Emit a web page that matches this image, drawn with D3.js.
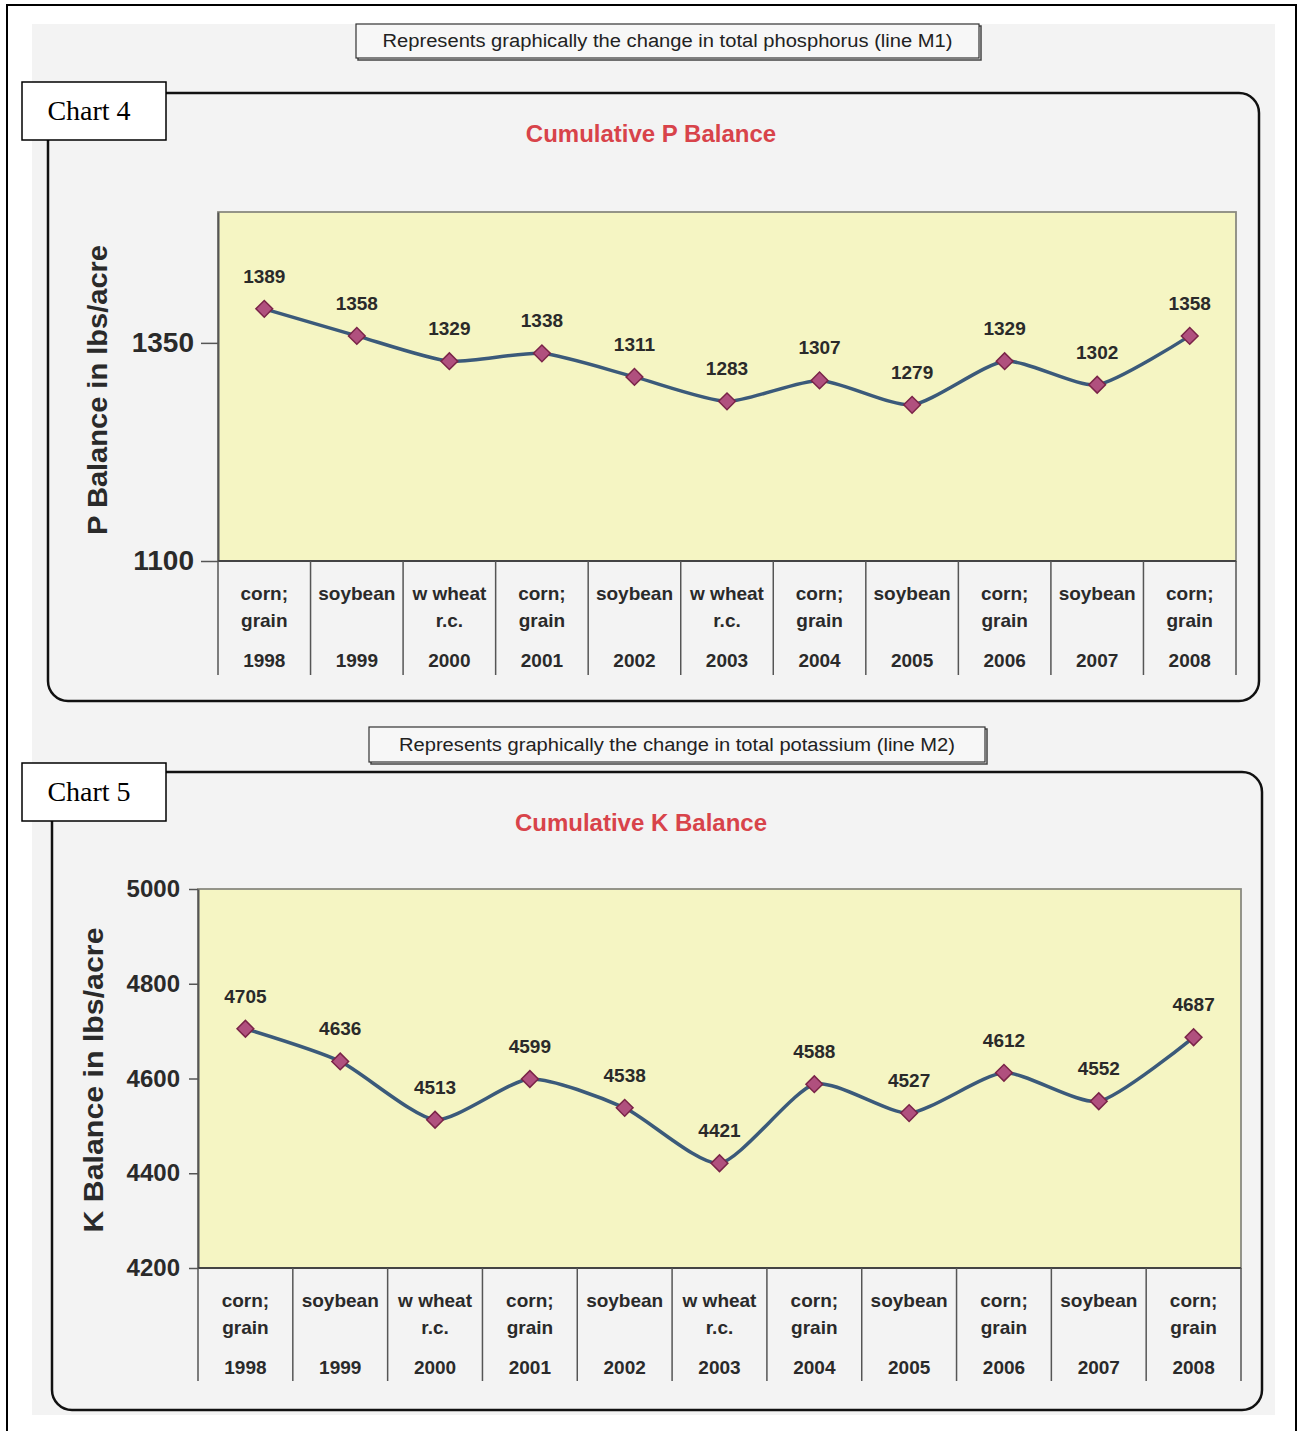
<!DOCTYPE html>
<html>
<head>
<meta charset="utf-8">
<script src="https://cdn.jsdelivr.net/npm/d3@7"></script>
<style>
  body { margin: 0; background: #fff; }
  svg { display: block; font-family: "Liberation Sans", Arial, sans-serif; }
</style>
</head>
<body>
<div id="chartCt"></div>
<script>
// data
const years = ["1998", "1999", "2000", "2001", "2002", "2003", "2004", "2005", "2006", "2007", "2008"];
const crops = [
  ["corn;", "grain"], ["soybean"], ["w wheat", "r.c."], ["corn;", "grain"], ["soybean"],
  ["w wheat", "r.c."], ["corn;", "grain"], ["soybean"], ["corn;", "grain"], ["soybean"], ["corn;", "grain"]
];
const pBalance = [1389, 1358, 1329, 1338, 1311, 1283, 1307, 1279, 1329, 1302, 1358];
const kBalance = [4705, 4636, 4513, 4599, 4538, 4421, 4588, 4527, 4612, 4552, 4687];
const pTicks = [1100, 1350];
const kTicks = [4200, 4400, 4600, 4800, 5000];

const W = 1302, H = 1431;

const svg = d3.select("#chartCt")
    .append("svg")
    .attr("width", W)
    .attr("height", H);

// page frame + scanned grey area
svg.append("rect").attr("x", 0).attr("y", 0).attr("width", W).attr("height", H).attr("fill", "#fff");
svg.append("rect").attr("x", 32).attr("y", 24).attr("width", 1243).attr("height", 1391).attr("fill", "#f3f3f3");
svg.append("rect").attr("x", 7).attr("y", 5).attr("width", 1289).attr("height", 1440)
    .attr("fill", "none").attr("stroke", "#000").attr("stroke-width", 2);

function caption(x, y, w, h, txt, textW) {
    svg.append("rect").attr("x", x + 2).attr("y", y + 2).attr("width", w).attr("height", h)
        .attr("fill", "none").attr("stroke", "#444").attr("stroke-width", 1.5);
    svg.append("rect").attr("x", x).attr("y", y).attr("width", w).attr("height", h)
        .attr("fill", "#f7f7f7").attr("stroke", "#333").attr("stroke-width", 1.2);
    svg.append("text")
        .attr("x", x + w / 2).attr("y", y + h / 2 + 6)
        .attr("text-anchor", "middle")
        .attr("font-size", 18)
        .attr("fill", "#222")
        .attr("textLength", textW)
        .attr("lengthAdjust", "spacingAndGlyphs")
        .text(txt);
}

function drawChart(cfg) {
    const g = svg.append("g");

    // rounded frame
    g.append("rect")
        .attr("x", cfg.frame[0]).attr("y", cfg.frame[1])
        .attr("width", cfg.frame[2]).attr("height", cfg.frame[3])
        .attr("rx", 20).attr("ry", 20)
        .attr("fill", "none").attr("stroke", "#111").attr("stroke-width", 2.5);

    // "Chart N" tag
    g.append("rect").attr("x", cfg.tag[0]).attr("y", cfg.tag[1]).attr("width", 144).attr("height", 58)
        .attr("fill", "#fff").attr("stroke", "#000").attr("stroke-width", 1.5);
    g.append("text").attr("x", cfg.tag[0] + 67).attr("y", cfg.tag[1] + 38)
        .attr("text-anchor", "middle")
        .attr("font-family", "'Liberation Serif', 'Times New Roman', serif")
        .attr("font-size", 28).attr("fill", "#000")
        .text(cfg.tagText);

    const x = d3.scaleBand().domain(years).range([cfg.plot.x0, cfg.plot.x1]);
    const y = d3.scaleLinear().domain(cfg.domain).range([cfg.plot.y1, cfg.plot.y0]);

    // plot area
    g.append("rect")
        .attr("x", cfg.plot.x0).attr("y", cfg.plot.y0)
        .attr("width", cfg.plot.x1 - cfg.plot.x0).attr("height", cfg.plot.y1 - cfg.plot.y0)
        .attr("fill", "#f5f5c3").attr("stroke", "#8a8a80").attr("stroke-width", 1.8);

    // title
    g.append("text")
        .attr("x", cfg.titleXY[0]).attr("y", cfg.titleXY[1])
        .attr("text-anchor", "middle")
        .attr("font-size", 24).attr("font-weight", "bold")
        .attr("fill", "#d8434a")
        .text(cfg.title);

    // y axis title
    g.append("text")
        .attr("transform", `translate(${cfg.yTitleXY[0]}, ${cfg.yTitleXY[1]}) rotate(-90)`)
        .attr("text-anchor", "middle")
        .attr("font-size", 27).attr("font-weight", "bold")
        .attr("fill", "#2a2a2a")
        .attr("textLength", cfg.yTitleLen)
        .attr("lengthAdjust", "spacingAndGlyphs")
        .text(cfg.yTitle);

    // y axis
    const yAxis = g.append("g")
        .attr("transform", `translate(${cfg.plot.x0}, 0)`)
        .call(d3.axisLeft(y).tickValues(cfg.ticks).tickSize(cfg.tickSize).tickSizeOuter(0)
            .tickPadding(cfg.tickPad).tickFormat(d3.format("d")));
    yAxis.select(".domain").attr("stroke", "#555").attr("stroke-width", 2);
    yAxis.selectAll(".tick line").attr("stroke", "#555").attr("stroke-width", 1.5);
    yAxis.selectAll(".tick text")
        .attr("font-family", "'Liberation Sans', Arial, sans-serif")
        .attr("font-size", cfg.tickFont).attr("font-weight", "bold").attr("fill", "#2a2a2a");

    // category table: bottom axis + dividers
    g.append("line")
        .attr("x1", cfg.plot.x0).attr("x2", cfg.plot.x1)
        .attr("y1", cfg.plot.y1).attr("y2", cfg.plot.y1)
        .attr("stroke", "#444").attr("stroke-width", 2);
    const edges = years.map(d => x(d)).concat([x(years[years.length - 1]) + x.bandwidth()]);
    g.selectAll(".divider")
        .data(edges)
        .enter().append("line")
        .attr("x1", d => d).attr("x2", d => d)
        .attr("y1", cfg.plot.y1).attr("y2", cfg.tableBottom)
        .attr("stroke", "#555").attr("stroke-width", 1.5);

    const cat = g.selectAll(".cat")
        .data(years)
        .enter().append("g")
        .attr("transform", d => `translate(${x(d) + x.bandwidth() / 2}, ${cfg.plot.y1})`);
    cat.each(function (d, i) {
        const c = d3.select(this);
        crops[i].forEach((line, k) => {
            c.append("text").attr("y", 39 + k * 27)
                .attr("text-anchor", "middle")
                .attr("font-size", 19).attr("font-weight", "bold").attr("fill", "#2a2a2a")
                .text(line);
        });
        c.append("text").attr("y", 106)
            .attr("text-anchor", "middle")
            .attr("font-size", 19).attr("font-weight", "bold").attr("fill", "#2a2a2a")
            .text(d);
    });

    // line
    const line = d3.line()
        .x((d, i) => x(years[i]) + x.bandwidth() / 2)
        .y(d => y(d))
        .curve(d3.curveCardinal.tension(0.35));

    g.append("path")
        .datum(cfg.values)
        .attr("d", line)
        .attr("fill", "none")
        .attr("stroke", "#3b5a7a")
        .attr("stroke-width", 3.5);

    // markers
    g.selectAll(".marker")
        .data(cfg.values)
        .enter().append("path")
        .attr("d", d3.symbol().type(d3.symbolSquare).size(140))
        .attr("transform", (d, i) => `translate(${x(years[i]) + x.bandwidth() / 2}, ${y(d)}) rotate(45)`)
        .attr("fill", "#b0507e")
        .attr("stroke", "#7a2448")
        .attr("stroke-width", 1.5);

    // value labels
    g.selectAll(".vlabel")
        .data(cfg.values)
        .enter().append("text")
        .attr("x", (d, i) => x(years[i]) + x.bandwidth() / 2)
        .attr("y", d => y(d) - 26)
        .attr("text-anchor", "middle")
        .attr("font-size", 19).attr("font-weight", "bold").attr("fill", "#2a2a2a")
        .text(d => d);
}

caption(356, 24, 623, 34, "Represents graphically the change in total phosphorus (line M1)", 570);
caption(369, 727, 616, 35, "Represents graphically the change in total potassium (line M2)", 556);

drawChart({
    frame: [48, 93, 1211, 608],
    tag: [22, 82],
    tagText: "Chart 4",
    plot: { x0: 218, x1: 1236, y0: 212, y1: 561 },
    domain: [1100, 1500],
    ticks: pTicks,
    tickSize: 17,
    tickPad: 7,
    tickFont: 28,
    tableBottom: 675,
    values: pBalance,
    title: "Cumulative P Balance",
    titleXY: [651, 142],
    yTitle: "P Balance in lbs/acre",
    yTitleXY: [107, 390],
    yTitleLen: 290
});

drawChart({
    frame: [52, 772, 1210, 638],
    tag: [22, 763],
    tagText: "Chart 5",
    plot: { x0: 198, x1: 1241, y0: 889, y1: 1268 },
    domain: [4200, 5000],
    ticks: kTicks,
    tickSize: 9,
    tickPad: 9,
    tickFont: 24,
    tableBottom: 1381,
    values: kBalance,
    title: "Cumulative K Balance",
    titleXY: [641, 831],
    yTitle: "K Balance in lbs/acre",
    yTitleXY: [103, 1080],
    yTitleLen: 305
});
</script>
</body>
</html>
